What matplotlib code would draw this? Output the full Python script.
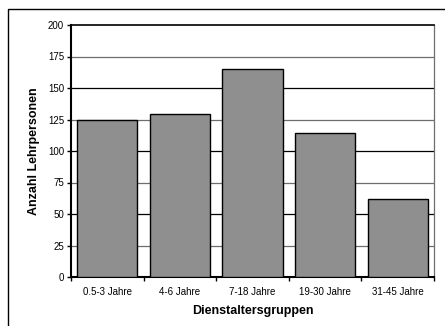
import numpy as np
import matplotlib.pyplot as plt
from matplotlib.patches import Rectangle

plt.rcParams['font.family'] = ['Liberation Sans', 'DejaVu Sans']

gruppen = ['0.5-3 Jahre', '4-6 Jahre', '7-18 Jahre', '19-30 Jahre', '31-45 Jahre']
anzahl = [125, 129, 165, 114, 62]
y_ticks = [0, 25, 50, 75, 100, 125, 150, 175, 200]

W, H = 445, 326
fig = plt.figure(figsize=(W / 100, H / 100), dpi=100)
ax = fig.add_axes([71 / W, 1 - 277 / H, (434 - 71) / W, (277 - 25) / H])

# Rahmen um das Diagramm
fig.patches.append(Rectangle((8 / W, -0.1), 1.2, 1 - 9 / H + 0.1,
                             transform=fig.transFigure, fill=False,
                             edgecolor='black', linewidth=1.0))

x = np.arange(len(gruppen))
ax.bar(x, anzahl, width=0.83, color='#8f8f8f', edgecolor='black',
       linewidth=1.0, zorder=3)

for t in y_ticks[1:-1]:
    farbe = 'black' if t % 50 == 0 else '#6e6e6e'
    ax.axhline(t, color=farbe, linewidth=0.9, zorder=1)

ax.set_xlim(-0.5, len(gruppen) - 0.5)
ax.set_ylim(0, 200)
ax.set_yticks(y_ticks)
ax.tick_params(axis='y', labelsize=7, length=3, width=1, pad=2)

ax.set_xticks(x)
ax.set_xticklabels(gruppen)
ax.set_xticks(np.arange(len(gruppen) + 1) - 0.5, minor=True)
ax.tick_params(axis='x', which='major', length=0, labelsize=7, pad=7)
ax.tick_params(axis='x', which='minor', length=3, width=1)

ax.spines['left'].set_linewidth(1.5)
ax.spines['bottom'].set_linewidth(1.5)
ax.spines['top'].set_linewidth(1.2)
ax.spines['right'].set_color('#6e6e6e')
ax.spines['right'].set_linewidth(0.9)

ax.set_xlabel('Dienstaltersgruppen', fontsize=9, fontweight='bold', labelpad=6)
ax.set_ylabel('Anzahl Lehrpersonen', fontsize=9, fontweight='bold', labelpad=6)

fig.savefig('out.png', dpi=100)
